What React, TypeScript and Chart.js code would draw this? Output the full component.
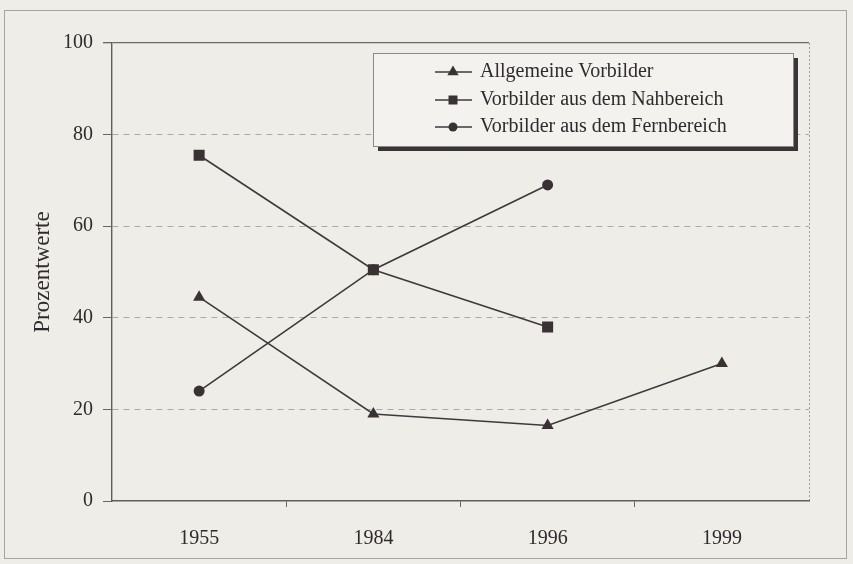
import React, { useEffect, useRef } from "react";
import { Chart, registerables } from "chart.js";

Chart.register(...registerables);

const years = ["1955", "1984", "1996", "1999"];
const allgemeine = [44.5, 19, 16.5, 30];
const nahbereich = [75.5, 50.5, 38, null];
const fernbereich = [24, 50.5, 69, null];
const seriesLabels = [
  "Allgemeine Vorbilder",
  "Vorbilder aus dem Nahbereich",
  "Vorbilder aus dem Fernbereich",
];
const yTicks = [0, 20, 40, 60, 80, 100];

const FONT = "'Liberation Serif', 'DejaVu Serif', serif";
const INK = "#2f2a2c";
const LINE = "#3e3a3c";
const MARK = "#3a3135";

const legendPlugin = {
  id: "boxLegend",
  afterDraw(chart: any) {
    const { ctx } = chart;
    const x = 373, y = 53, w = 420, h = 93;
    ctx.save();
    ctx.fillStyle = "#3a3436";
    ctx.fillRect(x + 5, y + 5, w, h);
    ctx.fillStyle = "#f3f2ee";
    ctx.fillRect(x, y, w, h);
    ctx.strokeStyle = "#8a8a8a";
    ctx.lineWidth = 1;
    ctx.strokeRect(x + 0.5, y + 0.5, w, h);
    const rows = [72, 100, 127];
    chart.data.datasets.forEach((ds: any, i: number) => {
      const ry = rows[i];
      ctx.strokeStyle = LINE;
      ctx.lineWidth = 1.5;
      ctx.beginPath();
      ctx.moveTo(435, ry);
      ctx.lineTo(472, ry);
      ctx.stroke();
      ctx.fillStyle = MARK;
      const cx = 453;
      ctx.beginPath();
      if (ds.pointStyle === "triangle") {
        const r = 6.5;
        ctx.moveTo(cx, ry - r);
        ctx.lineTo(cx + r * 0.866, ry + r / 2);
        ctx.lineTo(cx - r * 0.866, ry + r / 2);
        ctx.closePath();
      } else if (ds.pointStyle === "rect") {
        ctx.rect(cx - 4.5, ry - 4.5, 9, 9);
      } else {
        ctx.arc(cx, ry, 4.5, 0, Math.PI * 2);
      }
      ctx.fill();
      ctx.fillStyle = INK;
      ctx.font = `20px ${FONT}`;
      ctx.textAlign = "left";
      ctx.textBaseline = "middle";
      ctx.fillText(ds.label, 480, ry);
    });
    ctx.restore();
  },
};

export default function App() {
  const ref = useRef<HTMLCanvasElement | null>(null);

  useEffect(() => {
    document.body.style.margin = "0";
    if (!ref.current) return;
    const mk = (label: string, data: any[], style: string, r: number) => ({
      label,
      data,
      pointStyle: style,
      pointRadius: r,
      pointHoverRadius: r,
      borderColor: LINE,
      backgroundColor: MARK,
      pointBackgroundColor: MARK,
      pointBorderColor: MARK,
      pointBorderWidth: 0,
      borderWidth: 1.6,
      tension: 0,
      spanGaps: false,
    });
    const chart = new Chart(ref.current, {
      type: "line",
      data: {
        labels: years,
        datasets: [
          mk(seriesLabels[0], allgemeine, "triangle", 7),
          mk(seriesLabels[1], nahbereich, "rect", 7.8),
          mk(seriesLabels[2], fernbereich, "circle", 5.5),
        ],
      },
      options: {
        responsive: false,
        animation: false,
        layout: { padding: { top: 43, right: 44, left: 0, bottom: 0 } },
        plugins: {
          legend: { display: false },
          tooltip: { enabled: false },
        },
        scales: {
          x: {
            type: "category",
            offset: true,
            afterFit: (s: any) => {
              s.height = 63;
            },
            grid: {
              offset: true,
              drawOnChartArea: true,
              color: (c: any) => (c.type === "tick" ? "rgba(0,0,0,0)" : "#9a9a9a"),
              lineWidth: 1,
              tickColor: (c: any) =>
                c.type === "tick" && c.index > 0 ? "#666" : "rgba(0,0,0,0)",
              tickLength: 6,
            },
            border: {
              display: true,
              color: "#5e5e5e",
              width: 1.4,
              dash: (c: any) => (c.type === "tick" ? [] : [2, 2]),
            },
            ticks: {
              color: INK,
              font: { family: FONT, size: 20 },
              padding: 20,
              maxRotation: 0,
            },
          },
          y: {
            min: 0,
            max: 100,
            afterFit: (s: any) => {
              s.width = 112;
            },
            afterBuildTicks: (s: any) => {
              s.ticks = yTicks.map((v) => ({ value: v }));
            },
            title: {
              display: true,
              text: "Prozentwerte",
              color: INK,
              font: { family: FONT, size: 23 },
              padding: { top: 29, bottom: 0 },
            },
            grid: {
              color: (c: any) => {
                const v = c.tick ? c.tick.value : -1;
                if (v === 0) return "rgba(0,0,0,0)";
                if (v === 100) return "#6a6a6a";
                return "#a9a9a9";
              },
              lineWidth: (c: any) => (c.tick && c.tick.value === 100 ? 1.3 : 1),
              tickColor: "#666",
              tickLength: 9,
              tickBorderDash: [],
            },
            border: {
              display: true,
              color: "#5e5e5e",
              width: 1.4,
              dash: (c: any) =>
                c.tick && c.tick.value > 0 && c.tick.value < 100 ? [6, 5] : [],
            },
            ticks: {
              color: INK,
              font: { family: FONT, size: 20 },
              padding: 10,
            },
          },
        },
      },
      plugins: [legendPlugin],
    });
    return () => chart.destroy();
  }, []);

  return (
    <div
      style={{
        position: "fixed",
        left: 0,
        top: 0,
        width: 853,
        height: 564,
        background: "#eeede7",
        overflow: "hidden",
      }}
    >
      <div
        style={{
          position: "absolute",
          left: 4,
          top: 10,
          width: 843,
          height: 549,
          border: "1px solid #a5a5a0",
          boxSizing: "border-box",
        }}
      />
      <canvas
        ref={ref}
        width={853}
        height={564}
        style={{ position: "absolute", left: 0, top: 0 }}
      />
    </div>
  );
}
